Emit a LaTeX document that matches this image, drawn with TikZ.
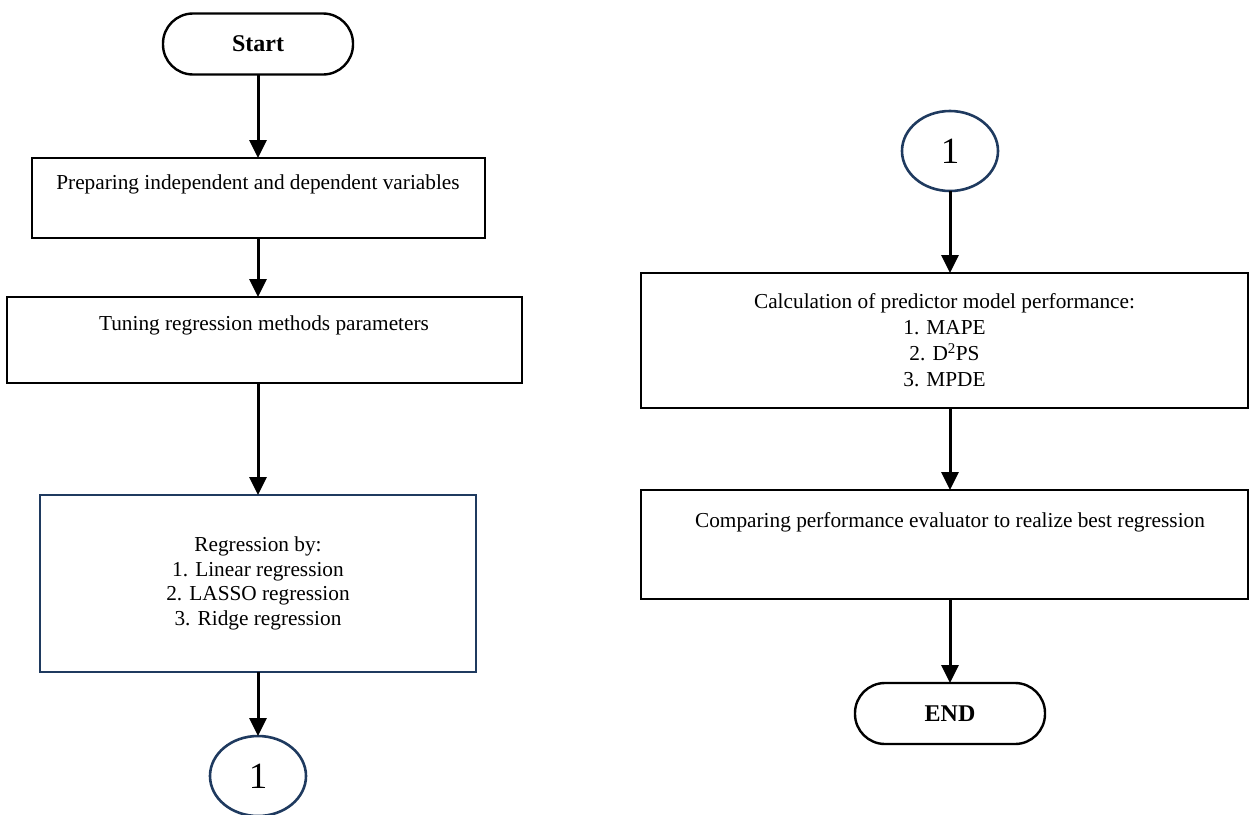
\documentclass[tikz,border=0pt]{standalone}
\usepackage{fontspec}
\setmainfont{Liberation Serif}
\usetikzlibrary{arrows.meta,shapes.geometric}
\definecolor{navy}{HTML}{1F3A5F}
\begin{document}
\begin{tikzpicture}[x=1pt,y=-1pt,
  every node/.style={inner sep=0pt,outer sep=0pt},
  txt/.style={font=\fontsize{21.3}{24.5}\selectfont,align=center},
  terminal/.style={draw=black,line width=2.4pt,rounded corners=30pt,minimum width=190pt,minimum height=61pt,font=\fontsize{24}{28}\selectfont\bfseries},
  box/.style={draw=black,line width=2.4pt},
  navybox/.style={draw=navy,line width=2.6pt},
  conn/.style={draw=navy,line width=2.6pt,ellipse,minimum width=96pt,minimum height=80pt,font=\fontsize{37}{42}\selectfont},
  arr/.style={line width=3pt,-{Triangle[width=17pt,length=18pt]}}]
\useasboundingbox (0,0) rectangle (1250,814);
% left column
\node[terminal] (start) at (258,44) {Start};
\node[box,minimum width=453pt,minimum height=80pt] (b1) at (258.5,198) {};
\node[txt] at (258,184) {Preparing independent and dependent variables};
\node[box,minimum width=515pt,minimum height=86pt] (b2) at (264.5,340) {};
\node[txt] at (264,325) {Tuning regression methods parameters};
\node[navybox,txt,minimum width=436pt,minimum height=177pt] (b3) at (258,583.5) {Regression by:\\1. Linear regression\\2. LASSO regression\\3. Ridge regression};
\node[conn] (c1) at (258,776) {1};
% right column
\node[conn] (c2) at (950,151) {1};
\node[box,txt,font=\fontsize{21.3}{26}\selectfont,minimum width=607pt,minimum height=135pt] (b4) at (944.5,340.5) {Calculation of predictor model performance:\\1. MAPE\\2. D\textsuperscript{2}PS\\3. MPDE};
\node[box,minimum width=607pt,minimum height=109pt] (b5) at (944.5,544.5) {};
\node[txt] at (950,522) {Comparing performance evaluator to realize best regression};
\node[terminal] (end) at (950,713.5) {END};
% connectors
\draw[arr] (start.south) -- (b1.north -| start.south);
\draw[arr] (b1.south -| start.south) -- (b2.north -| start.south);
\draw[arr] (b2.south -| start.south) -- (b3.north -| start.south);
\draw[arr] (b3.south -| c1.north) -- (c1.north);
\draw[arr] (c2.south) -- (b4.north -| c2.south);
\draw[arr] (b4.south -| c2.south) -- (b5.north -| c2.south);
\draw[arr] (b5.south -| end.north) -- (end.north);
\end{tikzpicture}
\end{document}
